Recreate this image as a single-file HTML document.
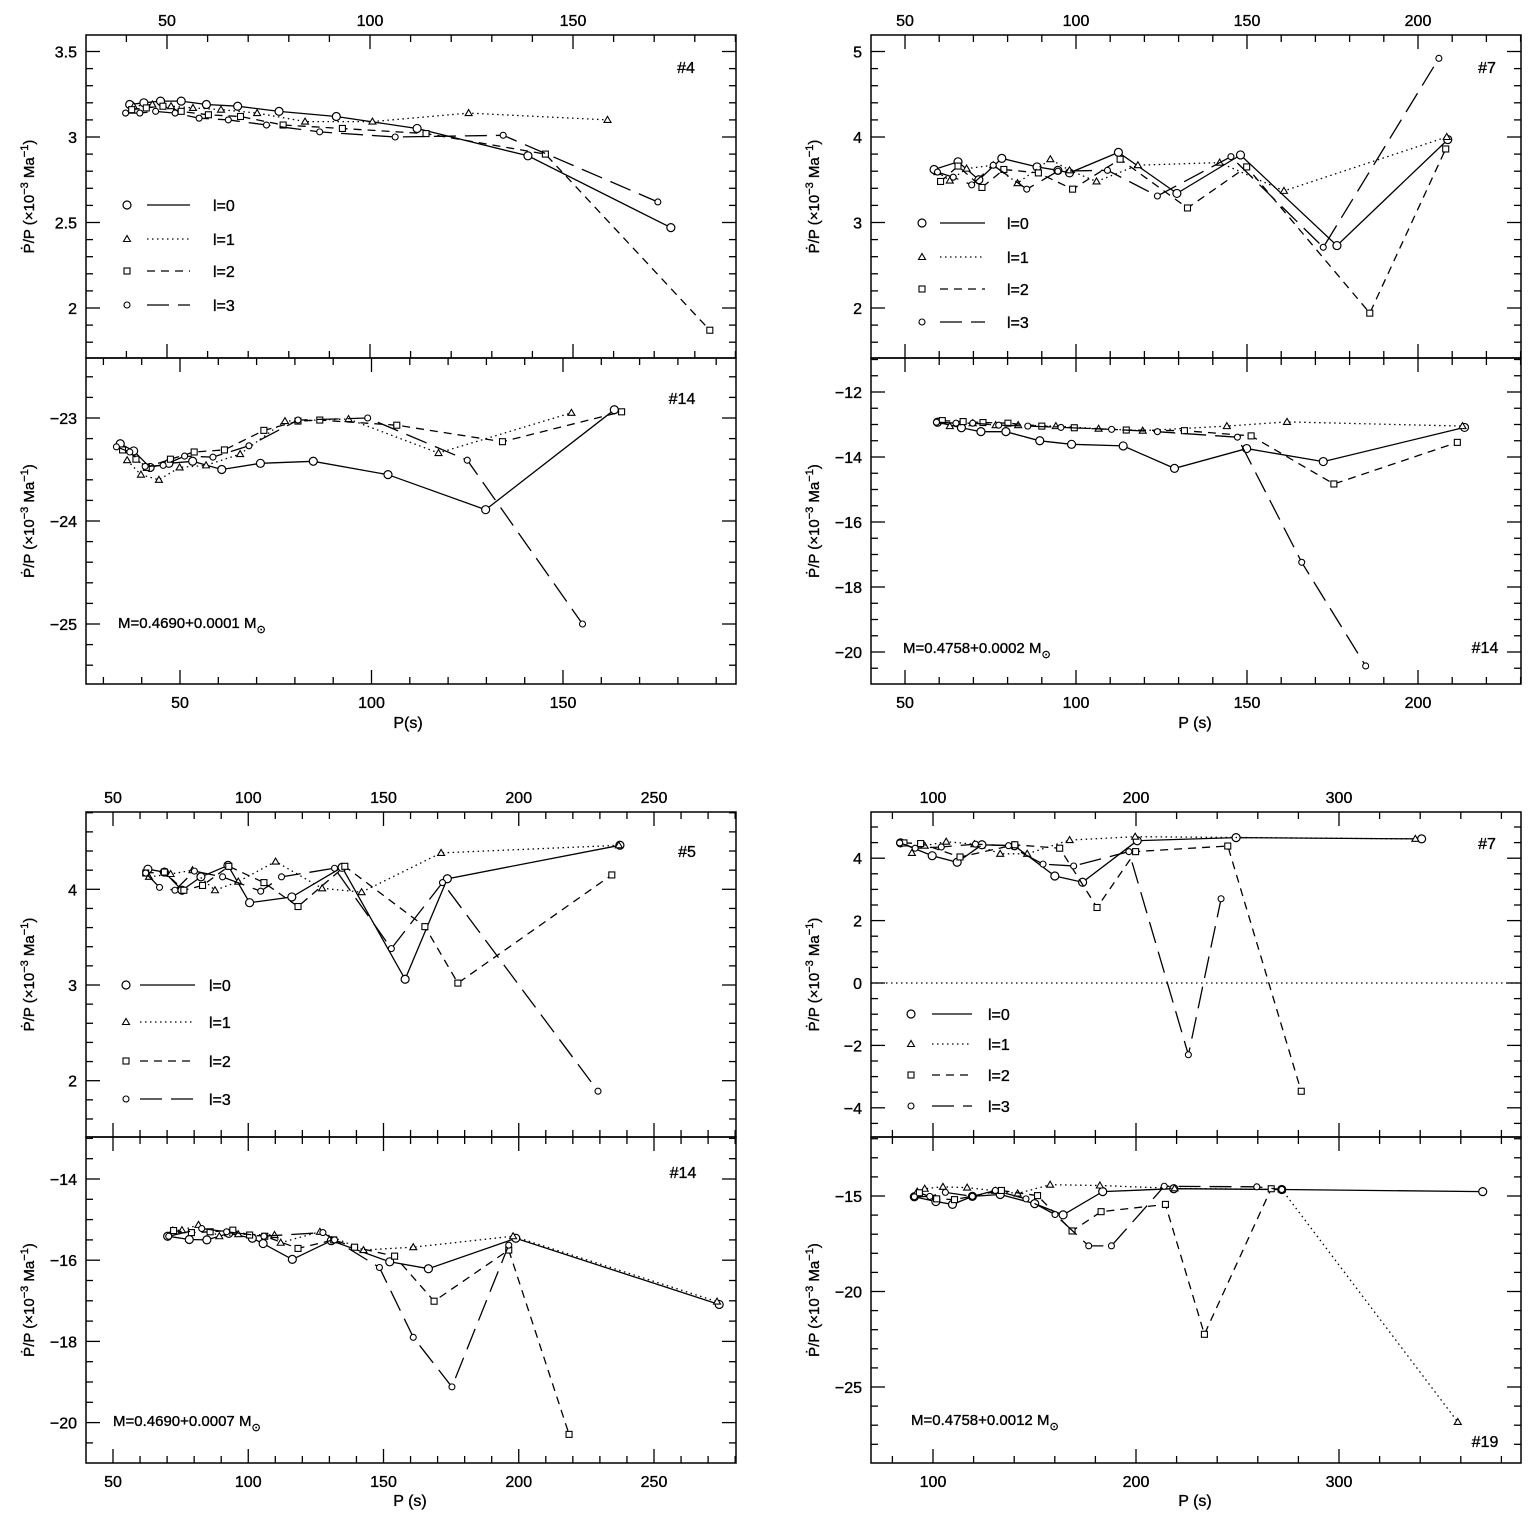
<!DOCTYPE html>
<html><head><meta charset="utf-8"><style>
body{margin:0;background:#fff}
svg{display:block}
text{font-family:"Liberation Sans",sans-serif;fill:#000;stroke:#000;stroke-width:0.35}
</style></head><body>
<svg id="fig" width="1533" height="1523" viewBox="0 0 1533 1523" xmlns="http://www.w3.org/2000/svg"></svg>
<script>
// ---- Data (P in s, value in 1e-3/Ma) ----
const tlTopP0=[40.8,44.3,48.4,53.5,59.7,67.4,77.6,91.7,111.6,138.9,174.1];
const tlTopV0=[3.19,3.20,3.21,3.21,3.19,3.18,3.15,3.12,3.05,2.89,2.47];
const tlTopP1=[41.8,46.4,51,56.4,63.3,72.2,84,100.6,124.3,158.5];
const tlTopV1=[3.18,3.19,3.18,3.17,3.16,3.14,3.09,3.09,3.14,3.10];
const tlTopP2=[41.3,44.9,49,53.5,60.2,68.1,78.6,93.2,113.8,143.2,183.7];
const tlTopV2=[3.16,3.17,3.18,3.15,3.13,3.12,3.07,3.05,3.02,2.90,1.87];
const tlTopP3=[39.8,43.3,47.2,52,57.9,65.1,74.5,87.6,106.2,132.8,170.9];
const tlTopV3=[3.14,3.14,3.15,3.14,3.11,3.10,3.07,3.03,3.00,3.01,2.62];

const tlBotP0=[34.4,37.9,42.2,47.1,53.3,60.9,71,84.8,104.3,129.8,163.4];
const tlBotV0=[-23.25,-23.32,-23.48,-23.44,-23.42,-23.50,-23.44,-23.42,-23.55,-23.89,-22.92];
const tlBotP1=[36.2,39.8,44.5,49.9,56.8,65.7,77.4,94,117.5,152.2];
const tlBotV1=[-23.41,-23.55,-23.60,-23.48,-23.46,-23.35,-23.03,-23.01,-23.34,-22.95];
const tlBotP2=[35,38.5,41.2,47.5,53.7,61.6,71.9,80.8,86.5,106.6,134.2,165.3];
const tlBotV2=[-23.31,-23.40,-23.48,-23.40,-23.33,-23.31,-23.12,-23.03,-23.02,-23.07,-23.23,-22.94];
const tlBotP3=[33.4,36.9,40.9,45.6,51.2,58.6,68,80.8,99,125,155.1];
const tlBotV3=[-23.28,-23.33,-23.47,-23.46,-23.37,-23.38,-23.27,-23.02,-23.00,-23.41,-25.00];

const trTopP0=[58.5,65.5,71.6,78.3,88.6,94.7,98.1,112.4,129.5,148.1,176.3,208.7];
const trTopV0=[3.62,3.71,3.50,3.75,3.65,3.61,3.58,3.82,3.34,3.79,2.73,3.97];
const trTopP1=[59.5,63.1,68,75.8,82.9,92.5,98.1,106,118.1,142,160.8,208.4];
const trTopV1=[3.59,3.49,3.63,3.67,3.46,3.74,3.61,3.48,3.67,3.70,3.37,4.00];
const trTopP2=[60.4,65.5,72.5,78.9,89,99,112.9,132.6,149.9,185.9,208.1];
const trTopV2=[3.48,3.66,3.41,3.62,3.58,3.39,3.74,3.17,3.65,1.94,3.86];
const trTopP3=[59.5,64.1,69.5,75.8,85.6,94.7,109.2,123.8,145.3,172.3,206.1];
const trTopV3=[3.59,3.53,3.44,3.67,3.39,3.60,3.61,3.31,3.77,2.71,4.92];

const trBotP0=[59.5,66.5,72.2,79.5,89.4,98.7,113.8,128.8,149.9,172.3,213.6];
const trBotV0=[-12.93,-13.10,-13.22,-13.22,-13.50,-13.61,-13.66,-14.35,-13.74,-14.14,-13.09];
const trBotP1=[63.1,69.8,76.5,83.1,94.1,106.6,119.5,144.1,161.7,213];
const trBotV1=[-13.05,-12.96,-13.02,-13.02,-13.05,-13.13,-13.19,-13.05,-12.92,-13.05];
const trBotP2=[60.9,67,72.8,80.1,90,99.5,114.7,131.7,151.2,175.4,211.5];
const trBotV2=[-12.88,-12.91,-12.94,-12.96,-13.05,-13.10,-13.17,-13.19,-13.35,-14.83,-13.55];
const trBotP3=[59.2,64.9,69.8,77.4,85.9,95.6,110.4,123.8,147.2,166,184.7];
const trBotV3=[-12.93,-12.96,-12.96,-13.02,-13.05,-13.09,-13.15,-13.22,-13.39,-17.24,-20.43];

const blTopP0=[62.9,69,75.5,82.5,92.5,100.5,116.1,134.7,158,173.6,237.4];
const blTopV0=[4.21,4.18,3.99,4.13,4.25,3.86,3.92,4.23,3.06,4.11,4.46];
const blTopP1=[63.3,71.3,79.4,87.7,96.3,110.1,127.3,141.9,171.3,237];
const blTopV1=[4.13,4.16,4.20,3.99,4.08,4.29,4.01,3.97,4.38,4.46];
const blTopP2=[62.1,69,76.2,83.1,92.8,105.8,118.4,135.7,165.3,177.5,234.4];
const blTopV2=[4.17,4.18,3.99,4.04,4.24,4.07,3.82,4.24,3.61,3.02,4.15];
const blTopP3=[62.1,67.2,72.9,80.1,90.5,104.6,112.3,131.9,152.9,171.8,229.3];
const blTopV3=[4.17,4.02,3.99,4.19,4.13,3.98,4.13,4.22,3.38,4.07,1.89];

const blBotP0=[70.2,78.2,84.7,92.8,101.5,105.5,116.3,130.7,152.3,166.6,198.9,274.1];
const blBotV0=[-15.41,-15.49,-15.50,-15.34,-15.46,-15.59,-15.98,-15.52,-16.04,-16.21,-15.46,-17.09];
const blBotP1=[72.1,75.5,81.6,89.3,96.3,109.7,112,126.5,142.6,161,197.9,273.3];
const blBotV1=[-15.27,-15.26,-15.13,-15.41,-15.36,-15.38,-15.57,-15.30,-15.75,-15.68,-15.41,-17.02];
const blBotP2=[72.4,79,85.9,94.3,100.5,106.1,118.4,131.6,139.3,154.1,168.7,196.3,218.6];
const blBotV2=[-15.27,-15.32,-15.30,-15.26,-15.38,-15.41,-15.71,-15.50,-15.68,-15.90,-17.01,-15.75,-20.29];
const blBotP3=[70.6,82.8,92,105.8,127.6,131.9,148.5,161,175.3,196.3];
const blBotV3=[-15.41,-15.22,-15.30,-15.41,-15.32,-15.50,-16.18,-17.90,-19.12,-15.63];

const brTopP0=[84,99.6,111.9,124.1,140.1,160,173.7,200.6,249.3,340.7];
const brTopV0=[4.49,4.08,3.87,4.43,4.40,3.43,3.23,4.56,4.66,4.62];
const brTopP1=[89.6,95.9,106.5,120.4,133.1,146.4,167.3,199.6,337.6];
const brTopV1=[4.17,4.40,4.53,4.45,4.14,4.14,4.58,4.69,4.62];
const brTopP2=[85.7,93.9,113.3,140.3,162.4,180.8,199.8,245.2,281.4];
const brTopV2=[4.49,4.47,4.04,4.43,4.32,2.42,4.21,4.39,-3.47];
const brTopP3=[83.6,91.2,104.1,120.9,137.2,154.2,169.3,196.5,225.8,241.9];
const brTopV3=[4.49,4.32,4.36,4.45,4.40,3.81,3.75,4.21,-2.30,2.70];

const brBotP0=[90.8,101.4,109.6,119.4,133.1,150.1,164.1,183.6,218.6,271.8,370.8];
const brBotV0=[-15.04,-15.29,-15.44,-15.02,-14.92,-15.40,-15.99,-14.77,-14.62,-14.66,-14.77];
const brBotP1=[92.2,95.9,104.9,116.8,130.7,141.7,157.7,182.2,219,271.8,358.5];
const brBotV1=[-14.77,-14.62,-14.52,-14.56,-14.73,-14.87,-14.41,-14.45,-14.6,-14.66,-26.83];
const brBotP2=[93.3,101.8,110.6,133.7,151.5,168.5,182.8,214.5,233.7,266.6];
const brBotV2=[-14.83,-15.15,-15.19,-14.71,-14.98,-16.83,-15.82,-15.44,-22.24,-14.62];
const brBotP3=[90.8,98.4,106.1,119.4,130.7,145.8,160.1,176.7,187.9,213.9,259.5,271.8];
const brBotV3=[-15.04,-15.02,-14.81,-15.02,-14.71,-15.15,-15.97,-17.61,-17.61,-14.49,-14.52,-14.66];

// tick label arrays
const tlXTicks=[50,100,150];
const trXTicks=[50,100,150,200];
const blXTicks=[50,100,150,200,250];
const brXTicks=[100,200,300];
const tlTopYTicks=["2","2.5","3","3.5"];
const tlBotYTicks=["-23","-24","-25"];
const trTopYTicks=["2","3","4","5"];
const trBotYTicks=["-12","-14","-16","-18","-20"];
const blTopYTicks=["2","3","4"];
const blBotYTicks=["-14","-16","-18","-20"];
const brTopYTicks=["-4","-2","0","2","4"];
const brBotYTicks=["-15","-20","-25"];
const legendLabels=["l=0","l=1","l=2","l=3"];

const NS="http://www.w3.org/2000/svg";
const svg=document.getElementById('fig');
function mk(tag,attrs,parent){const e=document.createElementNS(NS,tag);for(const k in attrs)e.setAttribute(k,attrs[k]);(parent||svg).appendChild(e);return e;}
const DASH=["none","1.5,3.5","8,6","22,9"];
function lin(d0,p0,d1,p1){return v=>p0+(v-d0)*(p1-p0)/(d1-d0);}
function inv(d0,p0,d1,p1){return p=>d0+(p-p0)*(d1-d0)/(p1-p0);}

function marker(g,k,x,y){
  let m;
  if(k===0)m=mk('circle',{cx:x,cy:y,r:4,fill:'#fff',stroke:'#000','stroke-width':1.2},g);
  else if(k===1)m=mk('polygon',{points:`${x},${y-3.5} ${x-3.5},${y+2.5} ${x+3.5},${y+2.5}`,fill:'#fff',stroke:'#000','stroke-width':1.1},g);
  else if(k===2)m=mk('rect',{x:x-3,y:y-3,width:6,height:6,fill:'#fff',stroke:'#000','stroke-width':1.1},g);
  else m=mk('circle',{cx:x,cy:y,r:3,fill:'#fff',stroke:'#000','stroke-width':1.1},g);
  
  
}

function series(g,sx,sy,P,V,k,name){
  const pts=P.map((p,i)=>sx(p).toFixed(1)+','+sy(V[i]).toFixed(1)).join(' ');
  const pl=mk('polyline',{points:pts,fill:'none',stroke:'#000','stroke-width':1.3,'stroke-dasharray':DASH[k]},g);
  
  
  P.forEach((p,i)=>marker(g,k,sx(p),sy(V[i])));
}

function panel(cfg){
  const g=mk('g',{});
  
  
  const {x0,x1,y0,y1,sx,sy}=cfg;
  const fr=mk('rect',{x:x0,y:y0,width:x1-x0,height:y1-y0,fill:'none',stroke:'#000','stroke-width':1.5},g);
  
  
  const xinv=inv(0,sx(0),1,sx(1));
  const pmin=xinv(x0),pmax=xinv(x1);
  for(let p=Math.ceil(pmin/cfg.xMinor)*cfg.xMinor;p<=pmax+1e-9;p+=cfg.xMinor){
    const major=cfg.xTicks.some(t=>Math.abs(t-p)<1e-6);
    const L=major?14:7,x=sx(p);
    mk('line',{x1:x,x2:x,y1:y0,y2:y0+L,stroke:'#000','stroke-width':1.3},g);
    mk('line',{x1:x,x2:x,y1:y1,y2:y1-L,stroke:'#000','stroke-width':1.3},g);
  }
  if(cfg.labTop)cfg.xTicks.forEach(t=>{const e=mk('text',{x:sx(t),y:y0-9,'text-anchor':'middle','font-size':16},g);e.textContent=t;});
  if(cfg.labBot)cfg.xTicks.forEach(t=>{const e=mk('text',{x:sx(t),y:y1+24,'text-anchor':'middle','font-size':16},g);e.textContent=t;});
  const yinv=inv(0,sy(0),1,sy(1));
  const a=yinv(y1),b=yinv(y0),vmin=Math.min(a,b),vmax=Math.max(a,b);
  const yMajors=cfg.yTicks.map(Number);
  for(let v=Math.ceil(vmin/cfg.yMinor-1e-9)*cfg.yMinor;v<=vmax+1e-9;v+=cfg.yMinor){
    const major=yMajors.some(t=>Math.abs(t-v)<1e-6);
    const L=major?14:7,y=sy(v);
    mk('line',{x1:x0,x2:x0+L,y1:y,y2:y,stroke:'#000','stroke-width':1.3},g);
    mk('line',{x1:x1,x2:x1-L,y1:y,y2:y,stroke:'#000','stroke-width':1.3},g);
  }
  cfg.yTicks.forEach(t=>{const e=mk('text',{x:x0-9,y:sy(Number(t))+6,'text-anchor':'end','font-size':16},g);e.textContent=t.replace('-','\u2212');});
  const yc=(y0+y1)/2;
  const yt=mk('text',{x:0,y:0,'text-anchor':'middle','font-size':15,transform:`translate(${x0-52},${yc}) rotate(-90)`},g);
  yt.innerHTML='P\u0307/P (\u00d710<tspan dy="-6" font-size="11">\u22123</tspan><tspan dy="6"> Ma</tspan><tspan dy="-6" font-size="11">\u22121</tspan><tspan dy="6">)</tspan>';
  
  
  if(cfg.zero!==undefined){const z=mk('line',{x1:x0,x2:x1,y1:sy(0),y2:sy(0),stroke:'#000','stroke-width':1.2,'stroke-dasharray':'1.5,3.5'},g);}
  cfg.series.forEach((s,k)=>series(g,sx,sy,s[0],s[1],k,'series-l'+k));
  if(cfg.tag){const e=mk('text',{x:cfg.tag[1],y:cfg.tag[2],'text-anchor':'middle','font-size':16},g);e.textContent=cfg.tag[0];}
  if(cfg.mass){const e=mk('text',{x:cfg.mass[1],y:cfg.mass[2],'font-size':15},g);e.innerHTML=cfg.mass[0]+' M<tspan dy="5" font-size="11">\u2299</tspan>';}
  if(cfg.legend){
    const [mx,lx0,lx1,tx,rows]=cfg.legend;
    const lg=mk('g',{},g);
    
    
    legendLabels.forEach((lab,k)=>{
      const y=rows[k];
      marker(lg,k,mx,y);
      mk('line',{x1:lx0,x2:lx1,y1:y,y2:y,stroke:'#000','stroke-width':1.3,'stroke-dasharray':DASH[k]},lg);
      const e=mk('text',{x:tx,y:y+6,'font-size':16},lg);e.textContent=lab;
      
      
    });
  }
  return g;
}
function xtitle(txt,x,y){const e=mk('text',{x:x,y:y,'text-anchor':'middle','font-size':16});e.textContent=txt;}

panel({name:'panel-tl-top',x0:86,x1:736,y0:35,y1:358,sx:lin(50,167,150,573),sy:lin(3,137,2,308),
 xTicks:tlXTicks,xMinor:10,labTop:true,yTicks:tlTopYTicks,yMinor:0.1,
 series:[[tlTopP0,tlTopV0],[tlTopP1,tlTopV1],[tlTopP2,tlTopV2],[tlTopP3,tlTopV3]],tag:['#4',686,73],
 legend:[127,147,190,213,[205,239,271,305]]});
panel({name:'panel-tl-bottom',x0:86,x1:736,y0:358,y1:684,sx:lin(50,180,150,563),sy:lin(-23,418,-25,624),
 xTicks:tlXTicks,xMinor:10,labBot:true,yTicks:tlBotYTicks,yMinor:0.2,
 series:[[tlBotP0,tlBotV0],[tlBotP1,tlBotV1],[tlBotP2,tlBotV2],[tlBotP3,tlBotV3]],tag:['#14',682,404],
 mass:['M=0.4690+0.0001',118,628]});
xtitle('P(s)',408,728);
panel({name:'panel-tr-top',x0:871,x1:1521,y0:35,y1:358,sx:lin(50,905,200,1418),sy:lin(4,137,2,308),
 xTicks:trXTicks,xMinor:10,labTop:true,yTicks:trTopYTicks,yMinor:0.2,
 series:[[trTopP0,trTopV0],[trTopP1,trTopV1],[trTopP2,trTopV2],[trTopP3,trTopV3]],tag:['#7',1487,73],
 legend:[922,940,985,1007,[223,257,289,322]]});
panel({name:'panel-tr-bottom',x0:871,x1:1521,y0:358,y1:684,sx:lin(50,905,200,1418),sy:lin(-12,392,-20,652),
 xTicks:trXTicks,xMinor:10,labBot:true,yTicks:trBotYTicks,yMinor:0.5,
 series:[[trBotP0,trBotV0],[trBotP1,trBotV1],[trBotP2,trBotV2],[trBotP3,trBotV3]],tag:['#14',1485,653],
 mass:['M=0.4758+0.0002',903,653]});
xtitle('P (s)',1195,728);
panel({name:'panel-bl-top',x0:86,x1:736,y0:812,y1:1137,sx:lin(50,113,250,654),sy:lin(4,889.3,2,1080.7),
 xTicks:blXTicks,xMinor:10,labTop:true,yTicks:blTopYTicks,yMinor:0.2,
 series:[[blTopP0,blTopV0],[blTopP1,blTopV1],[blTopP2,blTopV2],[blTopP3,blTopV3]],tag:['#5',687,857],
 legend:[126,140,195,209,[985,1022,1061,1099]]});
panel({name:'panel-bl-bottom',x0:86,x1:736,y0:1137,y1:1463,sx:lin(50,113,250,654),sy:lin(-14,1179,-20,1422.6),
 xTicks:blXTicks,xMinor:10,labBot:true,yTicks:blBotYTicks,yMinor:0.5,
 series:[[blBotP0,blBotV0],[blBotP1,blBotV1],[blBotP2,blBotV2],[blBotP3,blBotV3]],tag:['#14',683,1178],
 mass:['M=0.4690+0.0007',113,1426]});
xtitle('P (s)',410,1506);
panel({name:'panel-br-top',x0:871,x1:1521,y0:812,y1:1137,sx:lin(100,933,300,1339),sy:lin(0,983,4,858.2),
 xTicks:brXTicks,xMinor:20,labTop:true,yTicks:brTopYTicks,yMinor:0.5,zero:true,
 series:[[brTopP0,brTopV0],[brTopP1,brTopV1],[brTopP2,brTopV2],[brTopP3,brTopV3]],tag:['#7',1487,849],
 legend:[911,932,972,988,[1014,1044,1075,1106]]});
panel({name:'panel-br-bottom',x0:871,x1:1521,y0:1137,y1:1463,sx:lin(100,933,300,1339),sy:lin(-15,1196,-25,1387),
 xTicks:brXTicks,xMinor:20,labBot:true,yTicks:brBotYTicks,yMinor:1,
 series:[[brBotP0,brBotV0],[brBotP1,brBotV1],[brBotP2,brBotV2],[brBotP3,brBotV3]],tag:['#19',1485,1447],
 mass:['M=0.4758+0.0012',911,1425]});
xtitle('P (s)',1195,1506);
</script>
</body></html>
